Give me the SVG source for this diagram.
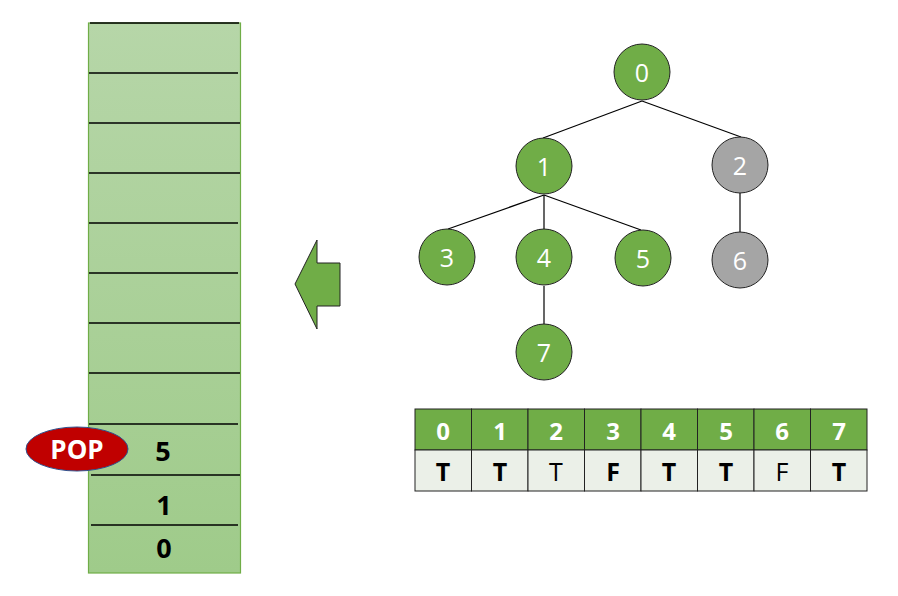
<svg xmlns="http://www.w3.org/2000/svg" width="898" height="596" viewBox="0 0 898 596">
<defs>
<linearGradient id="stackGrad" x1="0" y1="0" x2="0" y2="1">
<stop offset="0" stop-color="#b6d6a8"/>
<stop offset="1" stop-color="#9fcb8a"/>
</linearGradient>
<style>
.sep{stroke:#000;stroke-width:1.3}
.edge{stroke:#000;stroke-width:1.2;fill:none}
.ng{fill:#70ad47;stroke:#222;stroke-width:1}
.ngr{fill:#a5a5a5;stroke:#222;stroke-width:1}
.nl{font-family:"Open Sans","Noto Sans",sans-serif;font-size:25px;fill:#fff;text-anchor:middle;dominant-baseline:central}
.st{font-family:"Open Sans","Noto Sans",sans-serif;font-size:27px;font-weight:bold;fill:#000;text-anchor:middle;dominant-baseline:central}
.th{fill:#70ad47;stroke:#222;stroke-width:1}
.tb{fill:#ebf0e8;stroke:#222;stroke-width:1}
.hl{font-family:"Open Sans","Noto Sans",sans-serif;font-size:24px;font-weight:bold;fill:#fff;text-anchor:middle;dominant-baseline:central}
.pop{font-size:26px}
.bl{font-family:"Open Sans","Noto Sans",sans-serif;font-size:25px;fill:#000;text-anchor:middle;dominant-baseline:central}
.b{font-weight:bold}
</style>
</defs>
<g id="stack">
<rect x="88.5" y="23" width="152" height="550" fill="url(#stackGrad)" stroke="#70ad47" stroke-width="1.2"/>
<line class="sep" x1="90" y1="23" x2="239" y2="23"/>
<line class="sep" x1="89" y1="73" x2="238" y2="73"/>
<line class="sep" x1="89" y1="123" x2="240" y2="123"/>
<line class="sep" x1="89" y1="173" x2="240" y2="173"/>
<line class="sep" x1="89" y1="223" x2="238" y2="223"/>
<line class="sep" x1="89" y1="273" x2="238" y2="273"/>
<line class="sep" x1="89" y1="323" x2="240" y2="323"/>
<line class="sep" x1="89" y1="373" x2="240" y2="373"/>
<line class="sep" x1="89" y1="424" x2="238" y2="424"/>
<line class="sep" x1="91" y1="475" x2="240" y2="475"/>
<line class="sep" x1="91" y1="525" x2="238" y2="525"/>
<text class="st" x="163" y="450">5</text>
<text class="st" x="164" y="504">1</text>
<text class="st" x="164" y="547">0</text>
</g>
<g id="pop">
<ellipse cx="77" cy="449" rx="51" ry="22" fill="#c00000" stroke="#2f528f" stroke-width="1"/>
<text class="hl pop" x="77" y="449">POP</text>
</g>
<g id="arrow">
<polygon points="295,284 317,240 317,263 340,263 340,306 317,306 317,329" fill="#70ad47" stroke="#222" stroke-width="1"/>
</g>
<g id="connectors">
<line class="edge" x1="642" y1="101" x2="543" y2="138"/>
<line class="edge" x1="642" y1="101" x2="741" y2="137"/>
<line class="edge" x1="544" y1="195" x2="448" y2="229"/>
<line class="edge" x1="544" y1="195" x2="544" y2="229"/>
<line class="edge" x1="544" y1="195" x2="641" y2="230"/>
<line class="edge" x1="740" y1="193" x2="740" y2="232"/>
<line class="edge" x1="544" y1="286" x2="544" y2="324"/>
</g>
<g id="node0"><circle class="ng" cx="642" cy="72" r="28"/><text class="nl" x="642" y="72">0</text></g>
<g id="node1"><circle class="ng" cx="544" cy="166" r="28"/><text class="nl" x="544" y="166">1</text></g>
<g id="node2"><circle class="ngr" cx="740" cy="165" r="28"/><text class="nl" x="740" y="165">2</text></g>
<g id="node3"><circle class="ng" cx="447" cy="257" r="28"/><text class="nl" x="447" y="257">3</text></g>
<g id="node4"><circle class="ng" cx="544" cy="257" r="28"/><text class="nl" x="544" y="257">4</text></g>
<g id="node5"><circle class="ng" cx="643" cy="258" r="28"/><text class="nl" x="643" y="258">5</text></g>
<g id="node6"><circle class="ngr" cx="740" cy="260" r="28"/><text class="nl" x="740" y="260">6</text></g>
<g id="node7"><circle class="ng" cx="544" cy="352" r="28"/><text class="nl" x="544" y="352">7</text></g>
<g id="table">
<rect class="th" x="415" y="409" width="56.5" height="41"/>
<rect class="th" x="471.5" y="409" width="56.5" height="41"/>
<rect class="th" x="528" y="409" width="56.5" height="41"/>
<rect class="th" x="584.5" y="409" width="56.5" height="41"/>
<rect class="th" x="641" y="409" width="56.5" height="41"/>
<rect class="th" x="697.5" y="409" width="56.5" height="41"/>
<rect class="th" x="754" y="409" width="56.5" height="41"/>
<rect class="th" x="810.5" y="409" width="56.5" height="41"/>
<rect class="tb" x="415" y="450" width="56.5" height="41"/>
<rect class="tb" x="471.5" y="450" width="56.5" height="41"/>
<rect class="tb" x="528" y="450" width="56.5" height="41"/>
<rect class="tb" x="584.5" y="450" width="56.5" height="41"/>
<rect class="tb" x="641" y="450" width="56.5" height="41"/>
<rect class="tb" x="697.5" y="450" width="56.5" height="41"/>
<rect class="tb" x="754" y="450" width="56.5" height="41"/>
<rect class="tb" x="810.5" y="450" width="56.5" height="41"/>
<text class="hl" x="443" y="430">0</text>
<text class="hl" x="500" y="430">1</text>
<text class="hl" x="556" y="430">2</text>
<text class="hl" x="613" y="430">3</text>
<text class="hl" x="669" y="430">4</text>
<text class="hl" x="726" y="430">5</text>
<text class="hl" x="782" y="430">6</text>
<text class="hl" x="839" y="430">7</text>
<text class="bl b" x="443" y="471">T</text>
<text class="bl b" x="500" y="471">T</text>
<text class="bl" x="556" y="471">T</text>
<text class="bl b" x="613" y="471">F</text>
<text class="bl b" x="669" y="471">T</text>
<text class="bl b" x="726" y="471">T</text>
<text class="bl" x="782" y="471">F</text>
<text class="bl b" x="839" y="471">T</text>
</g>
</svg>
